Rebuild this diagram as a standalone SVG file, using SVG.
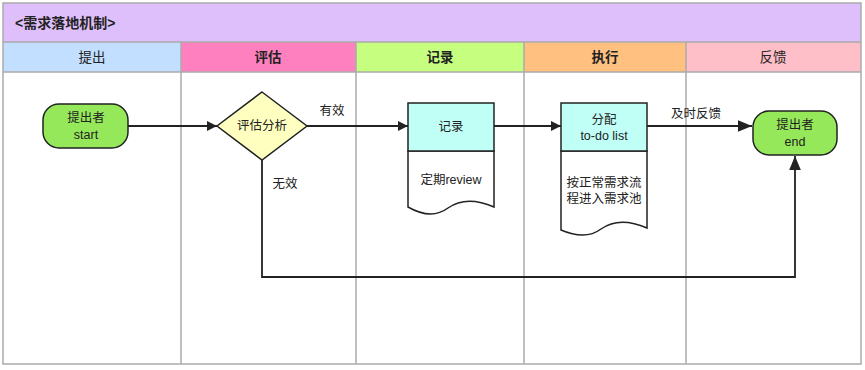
<svg xmlns="http://www.w3.org/2000/svg" width="865" height="370" viewBox="0 0 865 370">
<style>
text{font-family:"Liberation Sans","Noto Sans CJK SC",sans-serif;font-size:12.5px;fill:#222;text-anchor:middle}
.t{font-weight:bold;text-anchor:start;font-size:14px}
.h{font-size:13.5px}
.b{font-weight:bold}
.grid{stroke:#ababab;stroke-width:1.5;fill:none}
.term{fill:#95e85a;stroke:#222;stroke-width:1.5}
.dec{fill:#ffffc0;stroke:#222;stroke-width:1.5}
.hd{fill:#c0fff6;stroke:#222;stroke-width:1.5}
.doc{fill:#fff;stroke:#222;stroke-width:1.5}
.c{stroke:#222;stroke-width:1.8;fill:none}
</style>
<defs>
<marker id="ar" viewBox="0 0 10 10" refX="10" refY="5" markerWidth="10" markerHeight="10" markerUnits="userSpaceOnUse" orient="auto">
<path d="M0,0 L10,5 L0,10 z" fill="#222"/>
</marker>
<marker id="arb" viewBox="0 0 12 10" refX="12" refY="5" markerWidth="14" markerHeight="12" markerUnits="userSpaceOnUse" orient="auto">
<path d="M0,0 L12,5 L0,10 z" fill="#222"/>
</marker>
</defs>
<rect x="0" y="0" width="865" height="370" fill="#fff"/>
<g id="pool">
<rect x="3" y="3" width="858" height="39" fill="#dfbffb"/>
<rect x="3" y="42" width="178" height="30" fill="#c2dfff"/>
<rect x="181" y="42" width="175" height="30" fill="#ff80bf"/>
<rect x="356" y="42" width="168" height="30" fill="#c6ff80"/>
<rect x="524" y="42" width="162" height="30" fill="#ffc080"/>
<rect x="686" y="42" width="175" height="30" fill="#ffbfc8"/>
<rect class="grid" x="3" y="3" width="858" height="361"/>
<path class="grid" d="M3,42H861M3,72H861M181,42V364M356,42V364M524,42V364M686,42V364"/>
<text class="t" x="15" y="28">&lt;需求落地机制&gt;</text>
<text class="h" x="92" y="62">提出</text>
<text class="h b" x="268" y="62">评估</text>
<text class="h b" x="440" y="62">记录</text>
<text class="h b" x="605" y="62">执行</text>
<text class="h" x="773" y="62">反馈</text>
</g>
<g id="start">
<rect class="term" x="43" y="104" width="85" height="44" rx="16"/>
<text x="86" y="122">提出者</text>
<text x="86" y="139">start</text>
</g>
<g id="eval">
<path class="dec" d="M262,92 L307,126 L262,160 L217,126 z"/>
<text x="262" y="130">评估分析</text>
</g>
<g id="record">
<path class="doc" d="M408,151 H494 V207 C478,200 462,198 448,208 C436,217 422,215 408,207 z"/>
<rect class="hd" x="408" y="103" width="86" height="48"/>
<text x="451" y="131">记录</text>
<text x="451" y="184">定期review</text>
</g>
<g id="assign">
<path class="doc" d="M561,151 H647 V228 C631,221 615,219 601,229 C589,238 575,236 561,230 z"/>
<rect class="hd" x="561" y="103" width="86" height="48"/>
<text x="604" y="124">分配</text>
<text x="604" y="140">to-do list</text>
<text x="604" y="187">按正常需求流</text>
<text x="604" y="203">程进入需求池</text>
</g>
<g id="end">
<rect class="term" x="753" y="111" width="84" height="44" rx="16"/>
<text x="795" y="129">提出者</text>
<text x="795" y="146">end</text>
</g>
<g id="connectors">
<path class="c" d="M128,126 H217" marker-end="url(#ar)"/>
<path class="c" d="M307,126 H408" marker-end="url(#ar)"/>
<path class="c" d="M494,126 H561" marker-end="url(#ar)"/>
<path class="c" d="M647,126 H752" marker-end="url(#arb)"/>
<path class="c" d="M262,160 V277 H795 V156" marker-end="url(#arb)"/>
<text x="332" y="115">有效</text>
<text x="285" y="188">无效</text>
<text x="696" y="118">及时反馈</text>
</g>
</svg>
